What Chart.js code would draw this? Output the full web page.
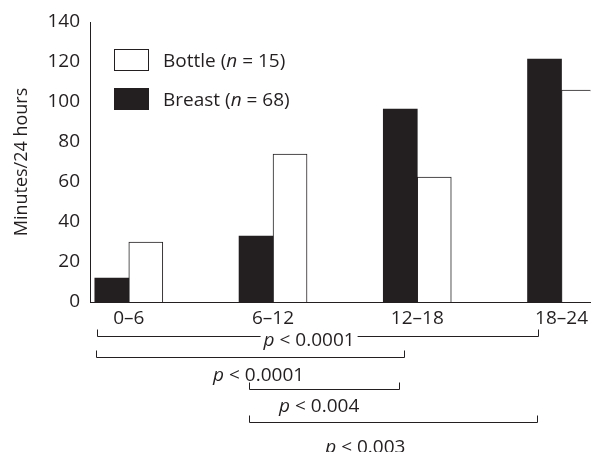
<!DOCTYPE html>
<html><head><meta charset="utf-8">
<script src="https://cdn.jsdelivr.net/npm/chart.js@4"></script>
<style>html,body{margin:0;padding:0;background:#fff;overflow:hidden}#wrap{width:593px;height:452px}</style>
</head><body><div id="wrap"><canvas id="c" width="593" height="452"></canvas></div>
<script>
// ---- data ----
const categories = ['0–6', '6–12', '12–18', '18–24'];
const breast = [12, 33, 96.5, 121.5];
const bottle = [30, 74, 62.5, 106];
const seriesNames = ['Breast', 'Bottle'];
const seriesN = [68, 15];
const yMin = 0, yMax = 140, yStep = 20;
const pValues = ['0.0001', '0.0001', '0.004', '0.003'];

// ---- annotation layout (brackets under the axis, in x-data units / px below axis) ----
const brackets = [
  {from: -0.22, to: 2.84, lineY: 34, textX: 1.25, textY: 37, inline: true},
  {from: -0.23, to: 1.91, lineY: 55, textX: 0.90, textY: 72},
  {from: 0.83,  to: 1.87, lineY: 87, textX: 1.32, textY: 103},
  {from: 0.83,  to: 2.83, lineY: 120, textX: 1.64, textY: 144}
];

const INK = '#231f20';
const FAMILY = '"Open Sans", "Noto Sans", sans-serif';
const FS = 19;

function fontStr(italic) { return (italic ? 'italic ' : '') + FS + 'px ' + FAMILY; }
function richWidth(ctx, parts) {
  let w = 0;
  parts.forEach(p => { ctx.font = fontStr(p.i); w += ctx.measureText(p.t).width; });
  return w;
}
function drawRich(ctx, parts, x, yCenter, align) {
  const w = richWidth(ctx, parts);
  let cx = align === 'center' ? x - w / 2 : x;
  const base = yCenter + FS * 0.36;
  ctx.fillStyle = INK;
  ctx.textBaseline = 'alphabetic';
  ctx.textAlign = 'left';
  parts.forEach(p => {
    ctx.font = fontStr(p.i);
    ctx.fillText(p.t, cx, base);
    cx += ctx.measureText(p.t).width;
  });
  return {left: (align === 'center' ? x - w / 2 : x), right: (align === 'center' ? x + w / 2 : x + w)};
}

const annotations = {
  id: 'annotations',
  afterDraw(chart) {
    const ctx = chart.ctx;
    const xs = chart.scales.x;
    const ca = chart.chartArea;
    ctx.save();
    // legend (Bottle first, then Breast)
    const order = [1, 0];
    order.forEach((di, k) => {
      const ds = chart.data.datasets[di];
      const bx = ca.left + 24, by = ca.top + 27 + k * 39, bw = 35, bh = 22;
      ctx.fillStyle = ds.backgroundColor;
      ctx.fillRect(bx, by, bw, bh);
      if (ds.borderWidth) {
        ctx.strokeStyle = INK; ctx.lineWidth = 1;
        ctx.strokeRect(bx + 0.5, by + 0.5, bw - 1, bh - 1);
      }
      drawRich(ctx, [{t: seriesNames[di] + ' ('}, {t: 'n', i: true}, {t: ' = ' + seriesN[di] + ')'}],
        bx + bw + 14, by + bh / 2, 'left');
    });
    // significance brackets
    ctx.strokeStyle = INK; ctx.lineWidth = 1;
    brackets.forEach((b, i) => {
      const x1 = Math.round(xs.getPixelForValue(b.from)) + 0.5;
      const x2 = Math.round(xs.getPixelForValue(b.to)) + 0.5;
      const ly = Math.round(ca.bottom + b.lineY) + 0.5;
      const parts = [{t: 'p', i: true}, {t: ' < ' + pValues[i]}];
      const tx = xs.getPixelForValue(b.textX);
      const r = drawRich(ctx, parts, tx, ca.bottom + b.textY, 'center');
      ctx.beginPath();
      ctx.moveTo(x1, ly - 7); ctx.lineTo(x1, ly);
      if (b.inline) {
        ctx.lineTo(r.left - 3, ly);
        ctx.moveTo(r.right + 3, ly);
      }
      ctx.lineTo(x2, ly); ctx.lineTo(x2, ly - 7);
      ctx.stroke();
    });
    ctx.restore();
  }
};

new Chart(document.getElementById('c'), {
  type: 'bar',
  data: {
    datasets: [
      {label: seriesNames[0], data: breast.map((y, i) => ({x: i, y})), backgroundColor: INK, borderWidth: 0, barThickness: 34},
      {label: seriesNames[1], data: bottle.map((y, i) => ({x: i, y})), backgroundColor: '#ffffff', borderColor: INK, borderWidth: 1, barThickness: 34}
    ]
  },
  plugins: [annotations],
  options: {
    responsive: false,
    animation: false,
    devicePixelRatio: 1,
    layout: {padding: {top: 22, left: 0, right: 0, bottom: 0}},
    plugins: {legend: {display: false}, tooltip: {enabled: false}},
    scales: {
      x: {
        type: 'linear',
        offset: false,
        min: -0.269, max: 3.2,
        afterBuildTicks: (s) => { s.ticks = categories.map((_, i) => ({value: i})); },
        afterFit: (s) => { s.height = 150; },
        grid: {display: false, drawTicks: false, offset: false},
        border: {display: true, color: INK, width: 1},
        ticks: {
          callback: (v) => categories[v],
          autoSkip: false, maxRotation: 0, padding: 5,
          color: INK, font: {family: FAMILY, size: FS}
        }
      },
      y: {
        min: yMin, max: yMax,
        afterFit: (s) => { s.width = 90; },
        grid: {display: false, drawTicks: false},
        border: {display: true, color: INK, width: 1},
        ticks: {stepSize: yStep, padding: 10, color: INK, font: {family: FAMILY, size: FS}},
        title: {display: true, text: 'Minutes/24 hours', color: INK, font: {family: FAMILY, size: 18}, padding: {top: 11, bottom: 0}}
      }
    }
  }
});
</script></body></html>
